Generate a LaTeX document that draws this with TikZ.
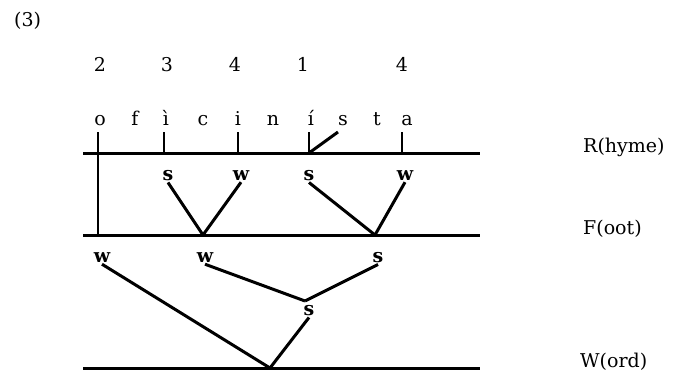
\documentclass[tikz,border=0pt]{standalone}
\usepackage{fontspec}
\setmainfont{DejaVu Serif}
\begin{document}
\begin{tikzpicture}[x=1pt,y=-1pt,
  txt/.style={font=\fontsize{19}{22}\selectfont, inner sep=1pt, anchor=base},
  lab/.style={font=\fontsize{19}{21}\selectfont\bfseries, inner sep=2pt, anchor=base},
  tier/.style={font=\fontsize{19}{22}\selectfont, inner sep=0pt, anchor=base west},
  ln/.style={line width=3pt},
  tk/.style={line width=2.2pt}]
\useasboundingbox (0,0) rectangle (678,372);
\node[txt, anchor=base west] (ex) at (13,27) {(3)};
% numbers
\node[txt] (n1) at (100,71) {2};
\node[txt] (n2) at (167,71) {3};
\node[txt] (n3) at (235,71) {4};
\node[txt] (n4) at (303,71) {1};
\node[txt] (n5) at (402,71) {4};
% segments
\node[txt] (l1) at (100,125) {o};
\node[txt] (l2) at (135,125) {f};
\node[txt] (l3) at (166,125) {ì};
\node[txt] (l4) at (203,125) {c};
\node[txt] (l5) at (238,125) {i};
\node[txt] (l6) at (273,125) {n};
\node[txt] (l7) at (311,125) {í};
\node[txt] (l8) at (343,125) {s};
\node[txt] (l9) at (377,125) {t};
\node[txt] (l10) at (407,125) {a};
% tier lines
\coordinate (RL) at (83,153); \coordinate (RR) at (480,153);
\coordinate (FL) at (83,235); \coordinate (FR) at (480,235);
\coordinate (WL) at (83,368); \coordinate (WR) at (480,368);
\draw[ln] (RL) -- (RR);
\draw[ln] (FL) -- (FR);
\draw[ln] (WL) -- (WR);
% ticks
\coordinate (t1) at (98,132); \coordinate (b1) at (98,235);
\coordinate (t3) at (164,132); \coordinate (b3) at (164,153);
\coordinate (t5) at (238,132); \coordinate (b5) at (238,153);
\coordinate (t7) at (309,132); \coordinate (b7) at (309,153);
\coordinate (t8) at (338,132);
\coordinate (t10) at (402,132); \coordinate (b10) at (402,153);
\draw[tk] (t1) -- (b1);
\draw[tk] (t3) -- (b3);
\draw[tk] (t5) -- (b5);
\draw[tk] (t7) -- (b7);
\draw[ln] (b7) -- (t8);
\draw[tk] (t10) -- (b10);
% feet
\node[lab] (fs1) at (168,180) {s};
\node[lab] (fw1) at (241,180) {w};
\node[lab] (fs2) at (309,180) {s};
\node[lab] (fw2) at (405,180) {w};
\coordinate (fj1) at (203,235);
\coordinate (fj2) at (375,235);
\draw[ln] (fs1.south) -- (fj1);
\draw[ln] (fw1.south) -- (fj1);
\draw[ln] (fs2.south) -- (fj2);
\draw[ln] (fw2.south) -- (fj2);
% word level
\node[lab] (ww1) at (102,262) {w};
\node[lab] (ww2) at (205,262) {w};
\node[lab] (ws1) at (378,262) {s};
\coordinate (mj) at (305,301);
\draw[ln] (ww2.south) -- (mj);
\draw[ln] (ws1.south) -- (mj);
\node[lab] (ms) at (309,315) {s};
\coordinate (wj) at (270,368);
\draw[ln] (ms.south) -- (wj);
\draw[ln] (ww1.south) -- (wj);
% tier labels
\node[tier] (R) at (583,152) {R(hyme)};
\node[tier] (F) at (583,234) {F(oot)};
\node[tier] (W) at (580,367) {W(ord)};
\end{tikzpicture}
\end{document}
